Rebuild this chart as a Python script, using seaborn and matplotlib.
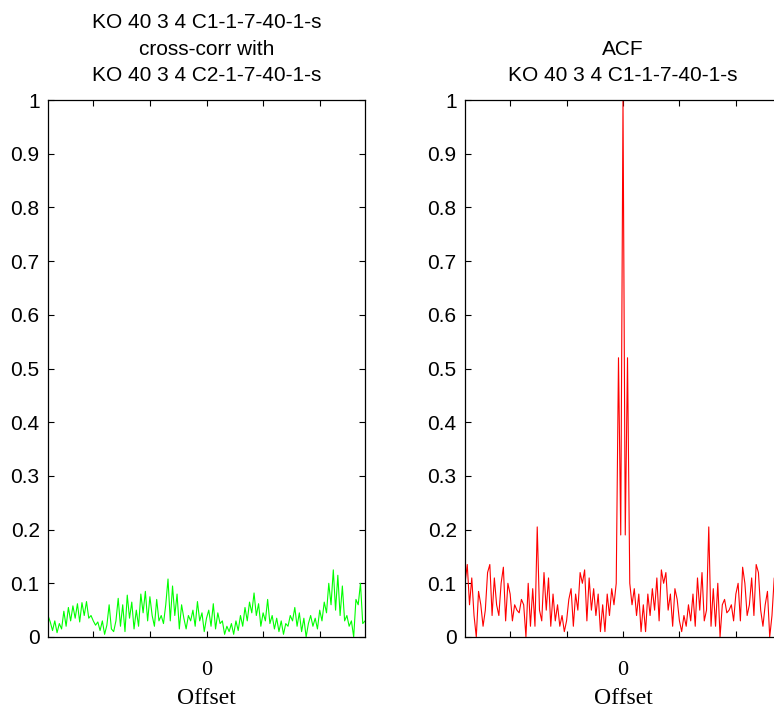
import numpy as np
import pandas as pd
import matplotlib
matplotlib.use("Agg")
import matplotlib.pyplot as plt
import seaborn as sns

# offsets -70 .. 70
lags = np.arange(-70, 71)

# cross-correlation C1 vs C2 (lag -70 .. 70)
xcorr = [
    0.040, 0.028, 0.012, 0.030, 0.008, 0.025, 0.015, 0.048, 0.020, 0.055,
    0.030, 0.058, 0.035, 0.062, 0.028, 0.064, 0.040, 0.066, 0.035, 0.040,
    0.030, 0.022, 0.028, 0.012, 0.030, 0.005, 0.022, 0.060, 0.015, 0.010,
    0.030, 0.072, 0.020, 0.060, 0.010, 0.078, 0.035, 0.065, 0.015, 0.050,
    0.020, 0.080, 0.045, 0.085, 0.030, 0.075, 0.040, 0.020, 0.070, 0.030,
    0.040, 0.025, 0.060, 0.108, 0.030, 0.095, 0.040, 0.080, 0.015, 0.060,
    0.035, 0.015, 0.040, 0.030, 0.050, 0.020, 0.066, 0.030, 0.045, 0.010,
    0.035, 0.050, 0.020, 0.062, 0.015, 0.045, 0.025, 0.030, 0.005, 0.020,
    0.010, 0.025, 0.005, 0.030, 0.012, 0.040, 0.020, 0.055, 0.030, 0.065,
    0.045, 0.082, 0.040, 0.062, 0.020, 0.045, 0.030, 0.070, 0.025, 0.040,
    0.015, 0.035, 0.010, 0.030, 0.005, 0.025, 0.020, 0.040, 0.030, 0.055,
    0.020, 0.045, 0.010, 0.035, 0.000, 0.025, 0.040, 0.020, 0.035, 0.015,
    0.050, 0.030, 0.065, 0.045, 0.100, 0.060, 0.125, 0.050, 0.115, 0.040,
    0.095, 0.030, 0.040, 0.020, 0.030, 0.000, 0.070, 0.060, 0.100, 0.025,
    0.030,
]

# ACF of C1 for lags 1 .. 70 (symmetric about 0, value 1 at lag 0)
acf_pos = [
    0.19, 0.52, 0.10, 0.06, 0.09, 0.04, 0.08, 0.01, 0.06, 0.01,
    0.08, 0.04, 0.09, 0.05, 0.11, 0.03, 0.125, 0.10, 0.12, 0.05,
    0.08, 0.02, 0.09, 0.07, 0.03, 0.01, 0.04, 0.02, 0.06, 0.03,
    0.08, 0.02, 0.11, 0.05, 0.12, 0.03, 0.05, 0.205, 0.02, 0.09,
    0.02, 0.10, 0.00, 0.06, 0.07, 0.045, 0.05, 0.06, 0.03, 0.08,
    0.10, 0.03, 0.13, 0.10, 0.04, 0.06, 0.11, 0.04, 0.135, 0.12,
    0.05, 0.02, 0.06, 0.085, 0.00, 0.04, 0.11, 0.06, 0.135, 0.10,
]
acf = acf_pos[::-1] + [1.0] + acf_pos

title_left = "KO 40 3 4 C1-1-7-40-1-s\ncross-corr with\nKO 40 3 4 C2-1-7-40-1-s"
title_right = "ACF\nKO 40 3 4 C1-1-7-40-1-s"

yticks = np.round(np.arange(0, 1.01, 0.1), 1)
ytick_labels = ["0"] + [f"{v:g}" for v in yticks[1:]]
xticks = [-50, -25, 0, 25, 50]
xtick_labels = ["", "", "0", "", ""]

sns.set_style("ticks")
plt.rcParams["font.family"] = ["Liberation Sans", "DejaVu Sans"]
plt.rcParams["text.color"] = "black"
plt.rcParams["xtick.color"] = "black"
plt.rcParams["ytick.color"] = "black"
plt.rcParams["axes.labelcolor"] = "black"

df = pd.DataFrame({"lag": lags, "xcorr": xcorr, "acf": acf})

fig = plt.figure(figsize=(7.74, 7.13), dpi=100)
ax1 = fig.add_axes([48 / 774, 76 / 713, 317 / 774, 537 / 713])
ax2 = fig.add_axes([465 / 774, 76 / 713, 316 / 774, 537 / 713])

sns.lineplot(data=df, x="lag", y="xcorr", ax=ax1, color="#00ff00", linewidth=0.8)
sns.lineplot(data=df, x="lag", y="acf", ax=ax2, color="#ff0000", linewidth=0.8)

serif = ["Liberation Serif", "DejaVu Serif"]
for ax, title in [(ax1, title_left), (ax2, title_right)]:
    ax.set_xlim(-70, 70)
    ax.set_ylim(0, 1)
    ax.set_yticks(yticks)
    ax.set_yticklabels(ytick_labels, fontsize=15)
    ax.set_xticks(xticks)
    ax.set_xticklabels(xtick_labels, fontsize=16, family=serif)
    ax.tick_params(axis="both", direction="in", length=4, width=0.8,
                   top=True, right=True, color="black", labelcolor="black")
    ax.tick_params(axis="x", pad=17)
    ax.tick_params(axis="y", pad=6)
    ax.set_xlabel("Offset", fontsize=17, family=serif, labelpad=6)
    ax.set_ylabel("")
    ax.set_title(title, fontsize=15, pad=14, linespacing=1.47)
    for sp in ax.spines.values():
        sp.set_visible(True)
        sp.set_linewidth(0.9)
        sp.set_color("black")

fig.savefig("out.png", dpi=100)
